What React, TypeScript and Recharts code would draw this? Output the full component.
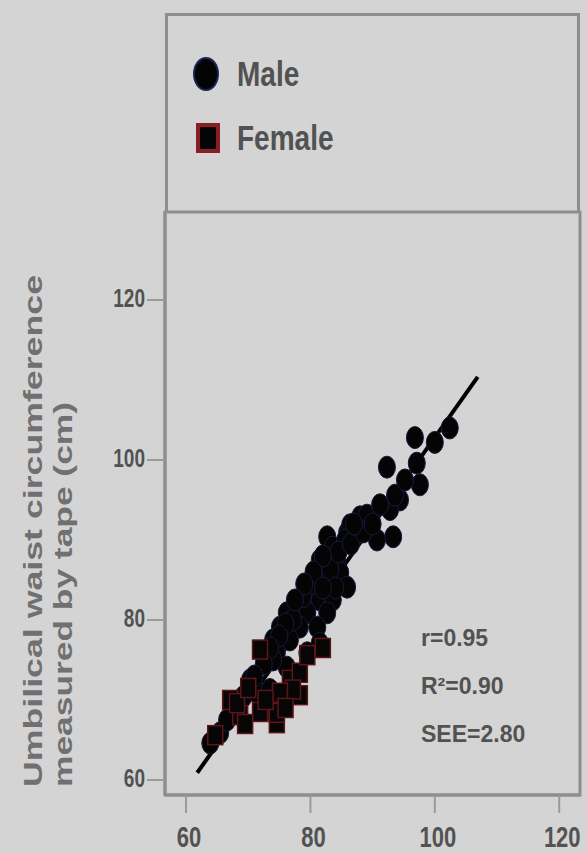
import React from "react";
import { ScatterChart, Scatter, XAxis, YAxis, ReferenceLine, ReferenceArea, Legend } from "recharts";

// waist circumference: x = method under test, y = measured by tape (cm)
const maleWaist = [
  96.8, 102.4, 92.3, 97.6, 97.1, 94.4, 92.8, 88.0, 93.3, 90.7, 82.7, 83.6, 85.9, 84.3,
  82.7, 84.8, 85.9, 79.9, 81.5, 78.3, 83.6, 76.2, 79.5, 82.7, 75.1, 78.3, 81.1, 81.5,
  74.0, 76.7, 74.6, 79.5, 76.2, 70.3, 74.0, 69.2, 73.0, 71.4, 65.5, 66.6, 63.9, 73.5,
  81.5, 83.2, 80.4, 78.8, 77.2, 86.4, 89.1, 91.2, 93.6, 95.2, 85.6, 100.0,
  84.5, 86.5, 82.0, 80.5, 79.0, 77.5, 76.0, 75.0, 73.5, 72.5, 71.0, 88.5, 90.0, 87.0, 84.0, 82.0,
];
const maleTape = [
  102.8, 104.0, 99.1, 96.9, 99.6, 95.0, 93.8, 92.9, 90.4, 90.0, 90.4, 89.1, 90.9, 87.5,
  85.4, 85.9, 84.1, 83.4, 82.5, 81.6, 82.5, 80.9, 80.9, 80.9, 79.1, 79.1, 79.1, 77.1,
  77.5, 77.5, 75.9, 75.9, 74.1, 72.5, 75.0, 70.4, 68.8, 70.9, 65.9, 67.5, 64.6, 71.3,
  87.5, 86.3, 84.6, 82.9, 80.0, 91.9, 93.1, 94.4, 95.6, 97.5, 90.0, 102.2,
  88.5, 89.5, 88.0, 86.0, 84.5, 82.5, 79.5, 78.0, 76.5, 74.5, 73.0, 91.0, 92.0, 92.0, 84.0, 84.0,
];
const femaleWaist = [71.9, 76.7, 78.3, 74.6, 82.0, 71.9, 68.7, 67.1, 64.7, 78.3, 77.2, 75.1, 74.6, 68.2, 79.5, 70.0, 72.8, 76.0, 69.5];
const femaleTape = [76.3, 72.5, 70.6, 67.1, 76.5, 68.5, 68.1, 70.0, 65.6, 73.4, 71.3, 70.9, 68.4, 69.6, 75.6, 71.5, 70.0, 69.0, 67.0];

const fitWaist = [61.8, 106.9];
const fitTape = [60.9, 110.4];

const xTicks = [60, 80, 100, 120];
const yTicks = [60, 80, 100, 120];
const xDomain = [56.62, 123.34];
const yDomain = [58.12, 131.0];

const seriesNames = ["Male", "Female"];
const stats = ["r=0.95", "R\u00b2=0.90", "SEE=2.80"];
const yTitle = ["Umbilical waist circumference", "measured by tape (cm)"];

const maleData = maleWaist.map((x, i) => ({ x, y: maleTape[i] }));
const femaleData = femaleWaist.map((x, i) => ({ x, y: femaleTape[i] }));

const BG = "#d4d4d4";
const FRAME = "#8e8e8e";
const TEXT = "#525252";
const FONT = "'Liberation Sans', Arial, sans-serif";

const MaleDot = (p: any) => (
  <ellipse cx={p.cx} cy={p.cy} rx={8.5} ry={11} fill="#040404" stroke="#161a3c" strokeWidth={1} />
);

const FemaleSquare = (p: any) => (
  <rect x={p.cx - 7.5} y={p.cy - 9.5} width={15} height={19} fill="#060606" stroke="#5e1519" strokeWidth={1.5} />
);

const XTick = (p: any) => (
  <g transform={`translate(${p.x + 3},${p.y})`}>
    <text transform="scale(1,1.35)" y={24} textAnchor="middle" fontSize={22} fontWeight="bold" fontFamily={FONT} fill={TEXT}>
      {p.payload.value}
    </text>
  </g>
);

const YTick = (p: any) => (
  <g transform={`translate(${p.x},${p.y})`}>
    <text transform="scale(1,1.4)" y={5} textAnchor="end" fontSize={19} fontWeight="bold" fontFamily={FONT} fill={TEXT}>
      {p.payload.value}
    </text>
  </g>
);

const YTitle = (props: any) => {
  const vb = props.viewBox;
  const bottom = vb.y + vb.height - 8;
  return (
    <g fontFamily={FONT} fontWeight="bold" fontSize={26} fill="#707070">
      <text x={42} y={bottom} transform={`rotate(-90, 42, ${bottom})`} textLength={512} lengthAdjust="spacingAndGlyphs">
        {yTitle[0]}
      </text>
      <text x={72} y={bottom} transform={`rotate(-90, 72, ${bottom})`} textLength={385} lengthAdjust="spacingAndGlyphs">
        {yTitle[1]}
      </text>
    </g>
  );
};

const LegendBox = () => (
  <svg width={409} height={196} style={{ display: "block" }}>
    {seriesNames.map((name, i) => {
      const cy = 58 + i * 64;
      return (
        <g key={name}>
          {name === "Male" ? (
            <ellipse cx={38} cy={cy} rx={12} ry={16} fill="#030303" stroke="#1c2458" strokeWidth={2} />
          ) : (
            <rect x={30} y={cy - 13} width={20} height={26} fill="#050505" stroke="#8a1e24" strokeWidth={4} />
          )}
          <g transform={`translate(69,${cy + 12}) scale(1,1.25)`}>
            <text fontSize={28} fontWeight="bold" fontFamily={FONT} fill={TEXT}>
              {name}
            </text>
          </g>
        </g>
      );
    })}
  </svg>
);

export default function App() {
  return (
    <div style={{ position: "absolute", left: 0, top: 0, width: 587, height: 853, background: BG, overflow: "hidden" }}>
      <ScatterChart width={587} height={853} margin={{ top: 212, right: 7, bottom: 0, left: 0 }}>
        <XAxis
          type="number"
          dataKey="x"
          domain={xDomain}
          allowDataOverflow
          ticks={xTicks}
          height={58}
          tickSize={18}
          tickMargin={2}
          axisLine={{ stroke: FRAME, strokeWidth: 3 }}
          tickLine={{ stroke: "#9a9a9a", strokeWidth: 2 }}
          tick={<XTick />}
        />
        <YAxis
          type="number"
          dataKey="y"
          domain={yDomain}
          allowDataOverflow
          ticks={yTicks}
          width={165}
          tickSize={18}
          tickMargin={2}
          axisLine={{ stroke: FRAME, strokeWidth: 3 }}
          tickLine={{ stroke: "#9a9a9a", strokeWidth: 2 }}
          tick={<YTick />}
          label={(p: any) => <YTitle {...p} />}
        />
        <ReferenceArea
          x1={xDomain[0]}
          x2={xDomain[1]}
          y1={yDomain[0]}
          y2={yDomain[1]}
          fill="none"
          fillOpacity={0}
          stroke={FRAME}
          strokeWidth={3}
          ifOverflow="visible"
        />
        <Legend
          layout="vertical"
          align="center"
          verticalAlign="middle"
          content={<LegendBox />}
          wrapperStyle={{
            top: 13,
            left: 165,
            width: 415,
            height: 199,
            border: `3px solid ${FRAME}`,
            borderBottom: "none",
            boxSizing: "border-box",
          }}
        />
        <Scatter name={seriesNames[0]} data={maleData} shape={MaleDot} isAnimationActive={false} />
        <Scatter name={seriesNames[1]} data={femaleData} shape={FemaleSquare} isAnimationActive={false} />
        <ReferenceLine
          segment={[
            { x: fitWaist[0], y: fitTape[0] },
            { x: fitWaist[1], y: fitTape[1] },
          ]}
          stroke="#000"
          strokeWidth={4}
          ifOverflow="visible"
        />
        <g fontFamily={FONT} fontWeight="bold" fontSize={23} fill={TEXT}>
          {stats.map((s, i) => (
            <text key={s} x={421} y={646 + i * 48}>
              {s}
            </text>
          ))}
        </g>
      </ScatterChart>
    </div>
  );
}
